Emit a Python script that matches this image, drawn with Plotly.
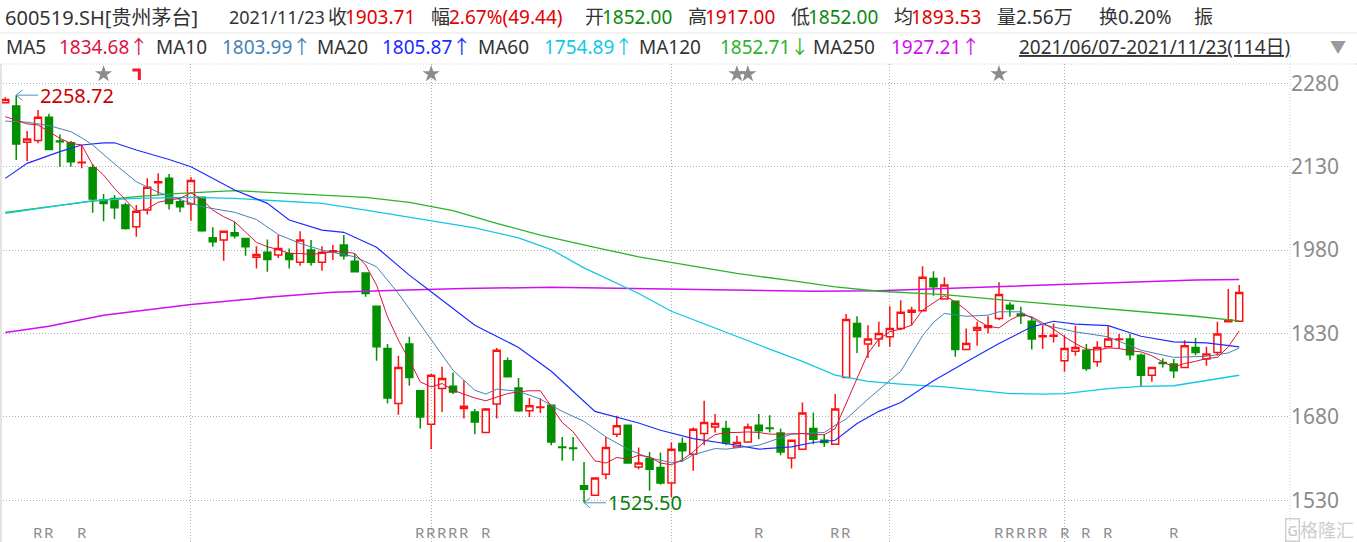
import plotly.graph_objects as go

# ---------------- data ----------------
opens = [2245, 2239, 2174, 2177, 2219, 2176, 2173, 2137, 2128, 2070,
         2073, 2061, 2022, 2052, 2101, 2109, 2067, 2063, 2075, 2002,
         1998, 2011, 2001, 1967, 1976, 1971, 1974, 1958, 1980, 1958,
         1977, 1989, 1960, 1939, 1879, 1803, 1704, 1811, 1727, 1667,
         1731, 1735, 1695, 1689, 1652, 1703, 1781, 1732, 1691, 1697,
         1701, 1626, 1624, 1556, 1539, 1577, 1649, 1665, 1590, 1605,
         1589, 1561, 1632, 1613, 1650, 1662, 1659, 1626, 1635, 1665,
         1660, 1651, 1606, 1622, 1659, 1638, 1631, 1751, 1848, 1811,
         1820, 1824, 1839, 1868, 1871, 1929, 1892, 1888, 1801, 1836,
         1841, 1857, 1881, 1865, 1852, 1824, 1825, 1781, 1798, 1800,
         1779, 1806, 1819, 1820, 1791, 1755, 1778, 1775, 1769, 1805,
         1784, 1796, 1851, 1852]
highs = [2255, 2258.72, 2194, 2232, 2225, 2188, 2176, 2169, 2135, 2081,
         2079, 2065, 2061, 2109, 2118, 2117, 2073, 2111, 2075, 2021,
         2014, 2031, 2001, 1987, 1999, 2007, 1983, 2014, 1998, 1987,
         1989, 2007, 1974, 1939, 1879, 1811, 1790, 1824, 1727, 1757,
         1770, 1760, 1746, 1694, 1696, 1804, 1787, 1750, 1714, 1713,
         1701, 1644, 1644, 1599, 1570, 1644, 1682, 1665, 1625, 1617,
         1616, 1634, 1643, 1661, 1709, 1685, 1673, 1646, 1668, 1685,
         1683, 1659, 1638, 1706, 1688, 1649, 1721, 1865, 1861, 1845,
         1851, 1879, 1890, 1878, 1951, 1942, 1931, 1888, 1839, 1851,
         1861, 1922, 1886, 1878, 1860, 1845, 1848, 1827, 1844, 1811,
         1816, 1843, 1829, 1829, 1794, 1769, 1785, 1784, 1818, 1822,
         1806, 1851, 1910, 1917]
lows = [2244, 2142, 2140, 2172, 2161, 2130, 2130, 2127, 2047, 2032,
        2036, 2017, 2004, 2044, 2079, 2053, 2048, 2033, 2013, 1986,
        1961, 2001, 1970, 1947, 1941, 1966, 1947, 1952, 1952, 1943,
        1962, 1963, 1941, 1896, 1781, 1704, 1684, 1736, 1659, 1622,
        1689, 1721, 1677, 1649, 1652, 1677, 1752, 1689, 1680, 1687,
        1629, 1601, 1601, 1525.5, 1539, 1568, 1644, 1597, 1586, 1547,
        1558, 1535, 1600, 1583, 1629, 1652, 1629, 1626, 1635, 1640,
        1652, 1611, 1587, 1622, 1631, 1626, 1631, 1751, 1795, 1786,
        1806, 1806, 1836, 1845, 1871, 1898, 1892, 1788, 1801, 1808,
        1830, 1854, 1860, 1847, 1801, 1802, 1814, 1761, 1790, 1763,
        1770, 1806, 1802, 1782, 1735, 1743, 1769, 1750, 1769, 1791,
        1772, 1790, 1850, 1852]
closes = [2251, 2171, 2180, 2219, 2161, 2175, 2139, 2138, 2072, 2064,
          2056, 2019, 2050, 2093, 2103, 2064, 2058, 2105, 2015, 1995,
          2014, 2006, 1986, 1972, 1963, 1983, 1963, 1998, 1958, 1976,
          1979, 1970, 1941, 1902, 1806, 1714, 1769, 1751, 1680, 1755,
          1749, 1725, 1699, 1671, 1694, 1800, 1752, 1691, 1700, 1698,
          1635, 1625, 1623, 1550, 1570, 1625, 1664, 1597, 1597, 1586,
          1561, 1622, 1619, 1658, 1670, 1668, 1633, 1634, 1662, 1655,
          1659, 1617, 1638, 1687, 1640, 1634, 1694, 1855, 1824, 1820,
          1830, 1839, 1868, 1872, 1931, 1914, 1917, 1801, 1812, 1841,
          1844, 1900, 1874, 1862, 1820, 1826, 1827, 1803, 1805, 1767,
          1805, 1820, 1820, 1792, 1755, 1769, 1776, 1763, 1808, 1796,
          1793, 1829, 1854.27, 1903.71]

ma5 = [2220, 2214, 2207, 2205, 2193, 2181, 2172, 2169, 2133, 2115,
       2091, 2070, 2050, 2054, 2066, 2070, 2073, 2083, 2071, 2052,
       2040, 2031, 2013, 1994, 1986, 1981, 1974, 1974, 1972, 1975,
       1977, 1977, 1974, 1953, 1917, 1860, 1818, 1782, 1743, 1734,
       1740, 1728, 1721, 1714, 1709, 1716, 1722, 1725, 1727, 1727,
       1698, 1670, 1653, 1626, 1601, 1597, 1607, 1604, 1611, 1608,
       1597, 1594, 1603, 1617, 1635, 1648, 1652, 1652, 1653, 1652,
       1649, 1649, 1649, 1650, 1648, 1648, 1659, 1704, 1749, 1794,
       1820, 1833, 1838, 1845, 1872, 1885, 1898, 1887, 1872, 1854,
       1843, 1840, 1854, 1864, 1860, 1849, 1838, 1824, 1812, 1802,
       1800, 1804, 1803, 1799, 1797, 1790, 1779, 1770, 1776, 1780,
       1785, 1787, 1806, 1834.68]

ma10_idx = [0, 2, 4, 6, 7, 8, 10, 12, 14, 16, 18, 21, 23, 25, 27, 29, 32, 34, 36,
            39, 41, 43, 44, 45, 47, 49, 51, 53, 55, 57, 59, 61, 62, 63, 65, 66,
            69, 72, 75, 76, 77, 79, 82, 84, 85, 86, 88, 90, 91, 93, 95, 98, 101,
            104, 107, 110, 112, 113]
ma10_val = [2212, 2210, 2204, 2193, 2182, 2169, 2135, 2103, 2084, 2071, 2058, 2048,
            2035, 2008, 1992, 1980, 1968, 1950, 1902, 1819, 1764, 1728, 1721, 1730,
            1726, 1712, 1690, 1672, 1644, 1622, 1606, 1598, 1600, 1612, 1623, 1622,
            1629, 1649, 1652, 1665, 1676, 1712, 1762, 1826, 1850, 1866, 1861, 1863,
            1869, 1869, 1846, 1833, 1824, 1800, 1787, 1789, 1795, 1803.99]

ma20_idx = [0, 2, 5, 7, 9, 10, 12, 15, 17, 19, 21, 24, 26, 29, 31, 34, 37, 39, 43,
            47, 50, 54, 58, 60, 63, 67, 69, 72, 74, 76, 78, 80, 82, 85, 87, 89, 91,
            94, 96, 98, 101, 104, 107, 110, 113]
ma20_val = [2109, 2136, 2157, 2169, 2173, 2173, 2160, 2143, 2130, 2109, 2088, 2064,
            2034, 2016, 2012, 1985, 1935, 1905, 1845, 1805, 1762, 1690, 1669, 1656,
            1641, 1629, 1622, 1626, 1634, 1638, 1668, 1690, 1706, 1745, 1768, 1790,
            1812, 1842, 1852, 1847, 1844, 1825, 1815, 1813, 1805.87]

ma60_idx = [0, 4, 8, 12, 17, 21, 24, 29, 33, 36, 39, 43, 47, 50, 53, 56, 58, 61,
            64, 67, 70, 73, 76, 79, 82, 86, 89, 92, 95, 97, 101, 104, 107, 110, 113]
ma60_val = [2046, 2058, 2069, 2073, 2075, 2073, 2070, 2064, 2052, 2042, 2033, 2020,
            2002, 1981, 1948, 1920, 1902, 1870, 1847, 1824, 1802, 1780, 1755, 1744,
            1739, 1734, 1728, 1722, 1721, 1722, 1731, 1735, 1736, 1745, 1754.89]

ma120_idx = [0, 4, 8, 12, 16, 21, 27, 33, 37, 41, 45, 49, 54, 58, 63, 67, 72, 76,
             80, 86, 92, 98, 104, 109, 113]
ma120_val = [2048, 2058, 2068, 2076, 2082, 2087, 2081, 2075, 2066, 2051, 2028, 2007,
             1985, 1968, 1951, 1938, 1925, 1914, 1906, 1900, 1889, 1879, 1869, 1861,
             1852.71]

ma250_idx = [0, 4, 9, 17, 24, 30, 36, 42, 50, 56, 62, 68, 74, 80, 86, 92, 98, 104,
             109, 113]
ma250_val = [1832, 1843, 1863, 1882, 1895, 1904, 1908, 1911, 1913, 1911, 1909, 1908,
             1906, 1907, 1911, 1915, 1920, 1924, 1926, 1927.21]

month_start_idx = [17, 39, 61, 81, 97]
star_idx = [9, 39, 67, 68, 91]
flag_idx = [12]
r_idx = [3, 4, 7, 38, 39, 40, 41, 42, 44, 69, 76, 77, 91, 92, 93, 94, 95, 97, 99, 101, 107]
ytick_vals = [1530, 1680, 1830, 1980, 2130, 2280]

header1 = [  # text, x-pixel, colour-key, size
    ("600519.SH[贵州茅台]", 3, "k", 20), ("2021/11/23", 227, "k", 18),
    ("收", 326, "k", 19), ("1903.71", 343, "r", 19),
    ("幅", 429, "k", 19), ("2.67%(49.44)", 447, "r", 19),
    ("开", 583, "k", 19), ("1852.00", 600, "g", 19),
    ("高", 686, "k", 19), ("1917.00", 703, "r", 19),
    ("低", 789, "k", 19), ("1852.00", 806, "g", 19),
    ("均", 892, "k", 19), ("1893.53", 909, "r", 19),
    ("量2.56万", 995, "k", 19), ("换0.20%", 1097, "k", 19), ("振", 1192, "k", 19),
]
header2 = [
    ("MA5", 4, "k", 19), ("1834.68↑", 57, "ma5", 19),
    ("MA10", 154, "k", 19), ("1803.99↑", 220, "ma10", 19),
    ("MA20", 315, "k", 19), ("1805.87↑", 380, "ma20", 19),
    ("MA60", 476, "k", 19), ("1754.89↑", 542, "ma60", 19),
    ("MA120", 637, "k", 19), ("1852.71↓", 718, "ma120", 19),
    ("MA250", 811, "k", 19), ("1927.21↑", 889, "ma250", 19),
    ("<u>2021/06/07-2021/11/23(114日)</u>", 1017, "k", 19),
    ("▼", 1328, "tri", 16),
]

# ---------------- styling ----------------
W, H = 1357, 542
PLOT_R = 1290          # right edge of plot area (px)
PLOT_T = 64            # top of plot area (px)
STAR_ROW = 74          # pixel row of the event stars
FONT = "Noto Sans, Noto Sans CJK SC, sans-serif"
COL = {
    "k": "#333333", "r": "#e00000", "g": "#0a8a0a", "tri": "#9a9a9a",
    "ma5": "#dc143c", "ma10": "#4682b4", "ma20": "#1a2cff",
    "ma60": "#10c8e4", "ma120": "#2ab42a", "ma250": "#cc10f0",
}
RED = "#ff1010"
GREEN = "#009000"
GRID = "#b0b0b0"

x_idx = list(range(len(closes)))
fig = go.Figure()

for xi, yv, key, w in [
    (ma250_idx, ma250_val, "ma250", 1.5),
    (ma120_idx, ma120_val, "ma120", 1.3),
    (ma60_idx, ma60_val, "ma60", 1.3),
    (ma20_idx, ma20_val, "ma20", 1.2),
    (ma10_idx, ma10_val, "ma10", 1.0),
    (x_idx, ma5, "ma5", 1.0),
]:
    fig.add_trace(go.Scatter(x=xi, y=yv, mode="lines", hoverinfo="skip",
                             line=dict(color=COL[key], width=w)))

fig.add_trace(go.Candlestick(
    x=x_idx, open=opens, high=highs, low=lows, close=closes,
    increasing=dict(line=dict(color=RED, width=1.5), fillcolor="rgba(255,255,255,0)"),
    decreasing=dict(line=dict(color=GREEN, width=1.5), fillcolor=GREEN),
    whiskerwidth=0, hoverinfo="skip"))

# event stars on a pixel-row overlay axis
fig.add_trace(go.Scatter(x=star_idx, y=[STAR_ROW] * len(star_idx), yaxis="y2",
                         mode="markers", hoverinfo="skip",
                         marker=dict(symbol="star", size=13, color="#8c8c8c",
                                     line=dict(width=0))))

x_lo = -0.485
x_hi = 117.65
y_lo, y_hi = 1455.0, 2314.7

fig.update_layout(
    width=W, height=H, margin=dict(l=0, r=0, t=0, b=0),
    paper_bgcolor="white", plot_bgcolor="white", showlegend=False,
    boxgap=0.2, boxgroupgap=0.2,
    font=dict(family=FONT),
    xaxis=dict(domain=[0, PLOT_R / W], range=[x_lo, x_hi], tickvals=month_start_idx,
               showticklabels=False, showgrid=True, gridcolor=GRID, griddash="1px,2px",
               gridwidth=1, zeroline=False, showline=False, ticks="",
               rangeslider=dict(visible=False), fixedrange=True),
    yaxis=dict(domain=[0, (H - PLOT_T) / H], range=[y_lo, y_hi], side="right",
               tickvals=ytick_vals, ticktext=[str(v) for v in ytick_vals],
               tickfont=dict(size=21, color="#8c8c8c", family=FONT),
               showgrid=True, gridcolor=GRID, griddash="1px,2px", gridwidth=1,
               zeroline=False, showline=False, ticks="", automargin=False,
               fixedrange=True),
    yaxis2=dict(overlaying="y", range=[H, PLOT_T], visible=False, fixedrange=True),
)

ann = []
def px_text(txt, px, py, color, size=19, anchor="left"):
    ann.append(dict(text=txt, x=px / W, y=1 - py / H, xref="paper", yref="paper",
                    xanchor=anchor, yanchor="middle", showarrow=False,
                    font=dict(size=size, color=color, family=FONT)))

for t, px, c, s in header1:
    px_text(t, px, 17, COL[c], size=s)
for t, px, c, s in header2:
    px_text(t, px, 47, COL[c], size=s)

for i in r_idx:
    ann.append(dict(text="R", x=i, xref="x", y=1 - 532 / H, yref="paper", showarrow=False,
                    xanchor="center", yanchor="middle",
                    font=dict(size=15, color="#8c8c8c", family=FONT)))

shapes = []
for i in flag_idx:
    shapes.append(dict(type="path", xref="x", yref="paper", xsizemode="pixel",
                       ysizemode="pixel", xanchor=i, yanchor=1 - STAR_ROW / H,
                       path="M-4,4 L3,4 L3,-6", line=dict(color="#ff1030", width=3)))

# extreme value labels
imax = max(range(len(highs)), key=lambda k: highs[k])
imin = min(range(len(lows)), key=lambda k: lows[k])
for idx, val, col in [(imax, highs[imax], "#cc0000"), (imin, lows[imin], "#0a7d0a")]:
    shapes.append(dict(type="path", xref="x", yref="y", xsizemode="pixel", ysizemode="pixel",
                       xanchor=idx, yanchor=val,
                       path="M0,0 L22,0 M6,5 L0,0 L6,-5",
                       line=dict(color="#4a90c0", width=1)))
    ann.append(dict(text=f"{val:.2f}", x=idx, y=val, xref="x", yref="y", xshift=22,
                    xanchor="left", yanchor="middle", showarrow=False,
                    font=dict(size=20, color=col, family=FONT)))

# frame lines
shapes.append(dict(type="line", xref="paper", yref="paper", x0=0, x1=1,
                   y0=1 - 33 / H, y1=1 - 33 / H, line=dict(color="#e6e6e6", width=1)))
shapes.append(dict(type="line", xref="paper", yref="paper", x0=0, x1=1,
                   y0=1 - PLOT_T / H, y1=1 - PLOT_T / H,
                   line=dict(color="#c8c8c8", width=1, dash="1px,2px")))
shapes.append(dict(type="line", xref="paper", yref="paper", x0=PLOT_R / W, x1=PLOT_R / W,
                   y0=0, y1=1 - PLOT_T / H, line=dict(color="#d0d0d0", width=1, dash="1px,2px")))
shapes.append(dict(type="line", xref="paper", yref="paper", x0=1 / W, x1=1 / W,
                   y0=0, y1=1 - PLOT_T / H, line=dict(color="#e4e4e4", width=2)))

# watermark
ann.append(dict(text="G", x=1292 / W, y=1 - 530 / H, xref="paper", yref="paper",
                xanchor="center", yanchor="middle",
                showarrow=False, bordercolor="#cfcfcf", borderwidth=1.5, borderpad=1,
                font=dict(size=14, color="#c4c4c4", family=FONT)))
px_text("格隆汇", 1327, 530, "#cdcdcd", size=18, anchor="center")

fig.update_layout(annotations=ann, shapes=shapes)

fig.write_html("out.html", config={"displayModeBar": False},
               post_script="document.body.style.margin='0';")
